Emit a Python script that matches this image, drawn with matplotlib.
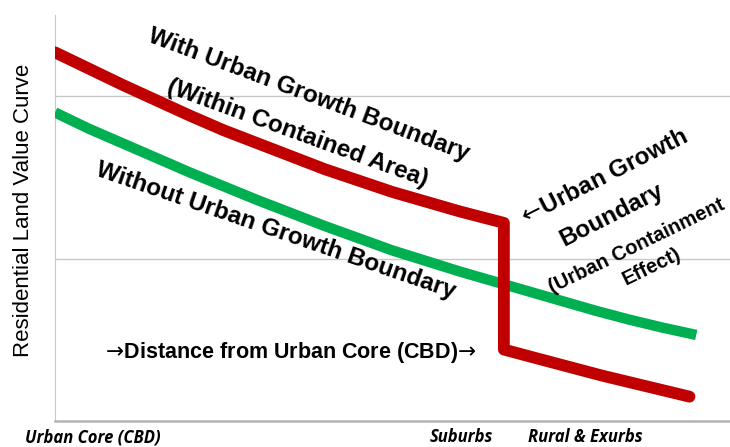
import matplotlib.pyplot as plt
from matplotlib.transforms import blended_transform_factory

# distance from the urban core (arbitrary units) and land value (arbitrary units)
with_ugb_x = [0, 0.5, 1, 1.5, 2, 2.5, 3, 3.5, 4, 4.5, 5, 5.5, 6, 6.65,
              6.65, 7.1, 8.1, 9.4]
with_ugb_y = [2.27, 2.17, 2.07, 1.975, 1.88, 1.79, 1.71, 1.63, 1.55, 1.48, 1.41, 1.35, 1.29, 1.22,
              0.44, 0.39, 0.28, 0.15]

without_ugb_x = [0, 0.5, 1, 1.5, 2, 2.5, 3, 3.5, 4, 4.5, 5, 5.5, 6, 6.5, 7, 7.5, 8, 8.5, 9, 9.5]
without_ugb_y = [1.90, 1.80, 1.71, 1.62, 1.53, 1.445, 1.36, 1.28, 1.20, 1.125, 1.05, 0.985,
                 0.92, 0.86, 0.80, 0.74, 0.68, 0.625, 0.575, 0.53]

zone_labels = ['Urban Core (CBD)', 'Suburbs', 'Rural & Exurbs']
zone_x = [-0.45, 5.55, 7.0]

RED = '#c00000'
GREEN = '#00b050'
MAIN_FONT = ['Liberation Sans', 'DejaVu Sans']

fig = plt.figure(figsize=(7.3, 4.47), dpi=100)
ax = fig.add_axes([55 / 730, 26 / 447, 675 / 730, 406 / 447])

ax.plot(without_ugb_x, without_ugb_y, color=GREEN, lw=7.5, solid_capstyle='butt',
        solid_joinstyle='round', zorder=3)
ax.plot(with_ugb_x, with_ugb_y, color=RED, lw=8.5, solid_capstyle='round',
        solid_joinstyle='round', zorder=4)

ax.set_xlim(0, 10)
ax.set_ylim(0, 2.5)
ax.set_xticks([])
ax.set_yticks([1, 2])
ax.tick_params(axis='y', length=0, labelleft=False)
ax.grid(axis='y', color='#c8c8c8', lw=1)
for s in ['top', 'right']:
    ax.spines[s].set_visible(False)
ax.spines['left'].set_color('#c8c8c8')
ax.spines['bottom'].set_color('#b4b4b4')
ax.spines['bottom'].set_linewidth(1.8)

ax.set_ylabel('Residential Land Value Curve', fontsize=16, family=MAIN_FONT)
ax.yaxis.set_label_coords(-0.031, 0.52)

def label(x, y, s, rot, size):
    ax.text(x, y, s, rotation=rot, rotation_mode='anchor', ha='center', va='center',
            fontsize=size, fontweight='bold', family=MAIN_FONT, zorder=5)

label(3.76, 2.01, 'With Urban Growth Boundary', -20.5, 17.5)
label(3.59, 1.77, '(Within Contained Area)', -20, 17.5)
label(3.27, 1.17, 'Without Urban Growth Boundary', -19, 17.5)
label(3.47, 0.42, r'$\rightarrow\!$Distance from Urban Core (CBD)$\!\rightarrow$', 0, 15.5)
label(8.12, 1.50, r'$\leftarrow\!$Urban Growth', 27, 17.5)
label(8.25, 1.27, 'Boundary', 27, 17.5)
label(8.62, 1.08, '(Urban Containment', 26, 14.5)
label(8.84, 0.95, 'Effect)', 26, 14.5)

trans = blended_transform_factory(ax.transData, ax.transAxes)
for lab, x in zip(zone_labels, zone_x):
    ax.text(x, -0.04, lab, transform=trans, ha='left', va='center', fontsize=12,
            fontweight='bold', style='italic', family=['Open Sans', 'DejaVu Sans'])

fig.savefig('out.png', dpi=100)
